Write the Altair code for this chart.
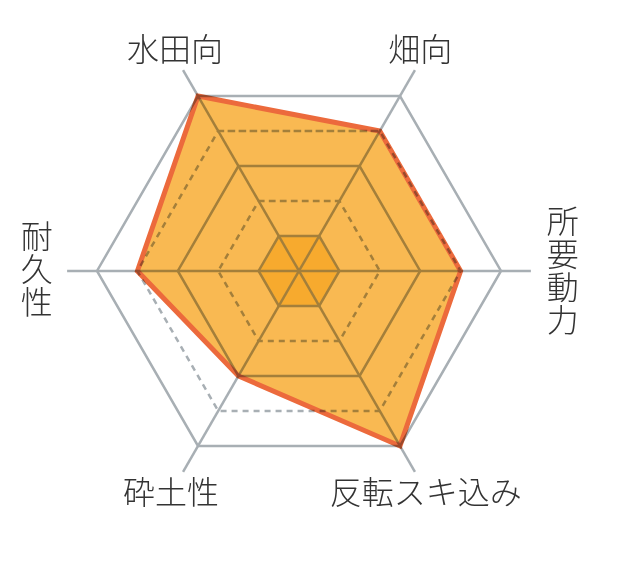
import altair as alt
import pandas as pd
import numpy as np

# ---- data ----
axes_names = ["水田向", "畑向", "所要動力", "反転スキ込み", "砕土性", "耐久性"]
angles_deg = [120, 60, 0, -60, -120, 180]
values = [5, 4, 4, 5, 3, 4]
levels = [1, 2, 3, 4, 5]
spoke_len = 5.74

# label anchors (in value units relative to the centre); vertical labels are
# stacked one character per line around their anchor
label_x = [-3.07, 3.0, 6.53, 3.14, -3.17, -6.49]
label_y = [5.45, 5.45, -0.03, -5.52, -5.52, 0.0]
label_vertical = [False, False, True, False, False, True]
char_step = 33 / 40.4  # line step of stacked labels, in value units

ang = np.radians(angles_deg)


def ring(r_list, extra=None):
    rows = []
    for i in range(8):
        k = i % 6
        r = r_list[k]
        row = {"order": i, "x": r * np.cos(ang[k]), "y": r * np.sin(ang[k])}
        row.update(extra or {})
        rows.append(row)
    return rows


grid_rows = []
for lv in levels:
    grid_rows += ring([lv] * 6, {"level": lv, "dashed": lv % 2 == 0})
grid = pd.DataFrame(grid_rows)

spokes = pd.DataFrame({
    "x": [0.0] * 6, "y": [0.0] * 6,
    "x2": [spoke_len * np.cos(a) for a in ang],
    "y2": [spoke_len * np.sin(a) for a in ang],
})

inner = pd.DataFrame(ring([1] * 6))
poly = pd.DataFrame(ring(values))

lab_rows = []
for name, lx, ly, vert in zip(axes_names, label_x, label_y, label_vertical):
    if vert:
        n = len(name)
        for j, ch in enumerate(name):
            lab_rows.append({"x": lx, "y": ly + ((n - 1) / 2 - j) * char_step, "text": ch})
    else:
        lab_rows.append({"x": lx, "y": ly, "text": name})
labels = pd.DataFrame(lab_rows)

xs = alt.Scale(domain=[-7.203, 8.243], nice=False, zero=False)
ys = alt.Scale(domain=[-7.129, 6.510], nice=False, zero=False)
X = alt.X("x:Q", scale=xs, axis=None)
Y = alt.Y("y:Q", scale=ys, axis=None)

GRAY = "#A8AFB4"

inner_layer = alt.Chart(inner).mark_line(
    fill="#FDEA8F", stroke=None, strokeWidth=0
).encode(x=X, y=Y, order="order:Q")

spoke_layer = alt.Chart(spokes).mark_rule(color=GRAY, strokeWidth=2.5).encode(
    x=X, y=Y, x2="x2:Q", y2="y2:Q"
)

solid_layer = alt.Chart(grid[~grid["dashed"]]).mark_line(
    color=GRAY, strokeWidth=2.5, strokeJoin="miter"
).encode(x=X, y=Y, order="order:Q", detail="level:N")

dashed_layer = alt.Chart(grid[grid["dashed"]]).mark_line(
    color=GRAY, strokeWidth=2.5, strokeDash=[6, 5]
).encode(x=X, y=Y, order="order:Q", detail="level:N")

poly_layer = alt.Chart(poly).mark_line(
    fill="#F9B952", stroke="#EC6A3C", strokeWidth=5, strokeJoin="miter",
    blend="multiply"
).encode(x=X, y=Y, order="order:Q")

label_layer = alt.Chart(labels).mark_text(
    font="Noto Sans CJK JP", fontSize=32, fontWeight=300, color="#333333",
    align="center", baseline="middle"
).encode(x=X, y=Y, text="text:N")

chart = alt.layer(
    inner_layer, spoke_layer, solid_layer, dashed_layer, poly_layer, label_layer
).properties(
    width=624, height=551, padding=0, autosize="none", background="white"
).configure_view(stroke=None)

chart.save("out.html", embed_options={"renderer": "svg", "actions": False})
